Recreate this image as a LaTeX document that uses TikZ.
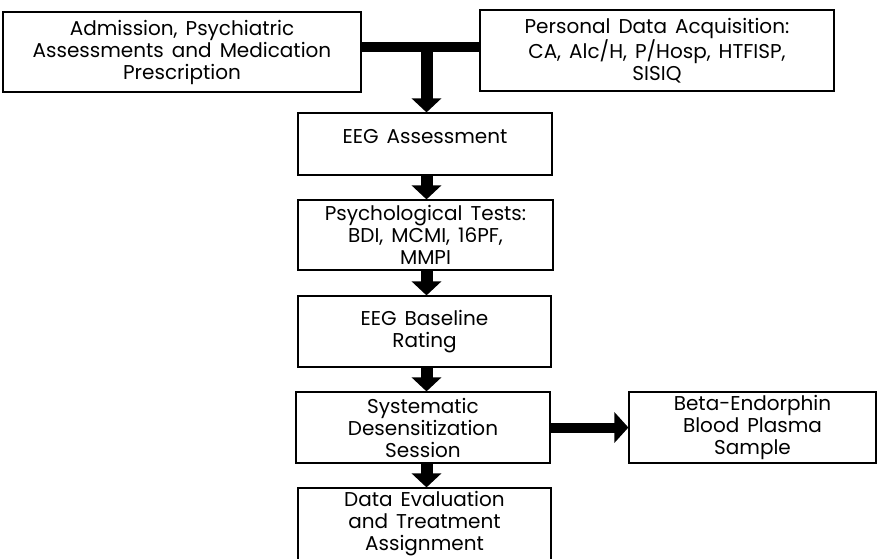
\documentclass[tikz,border=0pt]{standalone}
\usepackage{fontspec}
\setmainfont{Poppins}[WordSpace=1.5]
\usetikzlibrary{arrows.meta}
\tikzset{
  box/.style={draw, line width=1.2pt, inner sep=0pt, align=center,
    font=\fontsize{20}{22}\selectfont},
  vflow/.style={line width=12pt, -{Triangle[length=14pt,width=29pt]}},
  hflow/.style={line width=10pt, -{Triangle[length=14pt,width=30pt]}},
  bar/.style={line width=10pt}
}
\begin{document}
\begin{tikzpicture}[x=1pt,y=-1pt]
\useasboundingbox (0,0) rectangle (878,558);
\clip (0,0) rectangle (878,558);
\node[box, minimum width=358pt, minimum height=80pt] (adm) at (182,52)
  {Admission, Psychiatric\\Assessments and Medication\\Prescription};
\node[box, minimum width=354pt, minimum height=81pt] (pers) at (657,50.5)
  {Personal Data Acquisition:\\CA, Alc/H, P/Hosp, HTFISP,\\SISIQ};
\node[box, minimum width=254pt, minimum height=62pt, text height=10pt, text depth=12pt] (eeg) at (425,144)
  {EEG Assessment};
\node[box, minimum width=255pt, minimum height=70pt] (psy) at (425.5,235)
  {Psychological Tests:\\BDI, MCMI, 16PF,\\MMPI};
\node[box, minimum width=253pt, minimum height=71pt] (base) at (424.5,331.5)
  {EEG Baseline\\Rating};
\node[box, minimum width=254pt, minimum height=71pt] (sys) at (423,427.5)
  {Systematic\\Desensitization\\Session};
\node[box, minimum width=253pt, minimum height=72pt] (data) at (424.5,524)
  {Data Evaluation\\and Treatment\\Assignment};
\node[box, minimum width=247pt, minimum height=71pt] (beta) at (752.5,427.5)
  {Beta-Endorphin\\Blood Plasma\\Sample};
\coordinate (j) at (426.5,47);
\draw[bar] (j -| adm.east) -- (j -| pers.west);
\draw[vflow] (j) -- (eeg.north -| j);
\draw[vflow] (eeg.south -| j) -- (psy.north -| j);
\draw[vflow] (psy.south -| j) -- (base.north -| j);
\draw[vflow] (base.south -| j) -- (sys.north -| j);
\draw[vflow] (sys.south -| j) -- (data.north -| j);
\draw[hflow] (sys.east) -- (beta.west);
\end{tikzpicture}
\end{document}
